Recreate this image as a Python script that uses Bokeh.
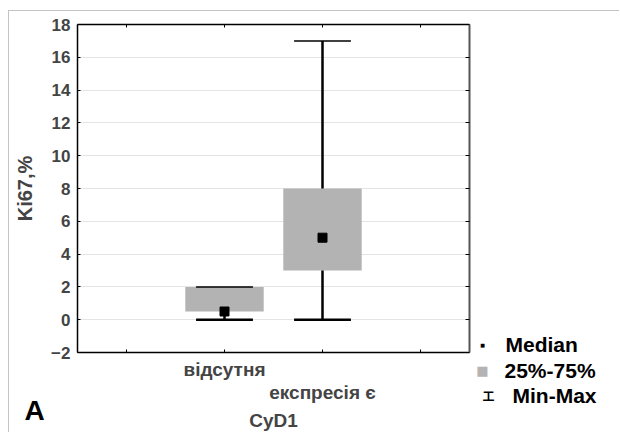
from bokeh.plotting import figure
from bokeh.models import (Range1d, FixedTicker, LinearAxis, Label, ColumnDataSource)
from bokeh.embed import file_html
from bokeh.resources import INLINE

# ---- data ----
categories = ["відсутня", "експресія є"]
cat_pos = [1, 2]
medians = [0.5, 5.0]
q1 = [0.5, 3.0]
q3 = [2.0, 8.0]
mins = [0.0, 0.0]
maxs = [2.0, 17.0]
y_ticks = [-2, 0, 2, 4, 6, 8, 10, 12, 14, 16, 18]
x_ticks = [0, 1, 2, 3]
legend_labels = ["Median", "25%-75%", "Min-Max"]

FONT = "Liberation Sans"
BOX_W = 0.8
CAP_W = 0.58

# plot box (axes) limits
XB0, XB1, YB0, YB1 = -0.5, 3.5, -2.0, 18.0
# page-pixel geometry of the plot box, and of the figure
PB_L, PB_R, PB_T, PB_B = 77, 469, 24, 352
FIG_X0, FIG_Y0 = 9, 11
W, H = 611, 422
SX = (PB_R - PB_L) / (XB1 - XB0)
SY = (PB_B - PB_T) / (YB1 - YB0)

def dx(px):
    return XB0 + (px - PB_L) / SX

def dy(py):
    return YB0 + (PB_B - py) / SY

# the frame covers the whole canvas; the axes are pinned to the plot box
p = figure(width=W, height=H, output_backend="svg", toolbar_location=None,
           x_range=Range1d(dx(FIG_X0), dx(FIG_X0 + W)),
           y_range=Range1d(dy(FIG_Y0 + H), dy(FIG_Y0)),
           min_border_left=0, min_border_top=0, min_border_right=0, min_border_bottom=0)
p.margin = (10, 0, 0, 8)
p.styles = {"border-top": "1px solid #c4c4c4", "border-left": "1px solid #c4c4c4"}
p.outline_line_color = None

p.xgrid.visible = False
p.ygrid.ticker = FixedTicker(ticks=y_ticks)
p.ygrid.grid_line_color = "#c8c8c8"
p.ygrid.grid_line_dash = "1 1"
p.ygrid.bounds = (YB0, YB1)
p.ygrid.cross_bounds = (XB0, XB1)

xa = p.xaxis[0]
xa.fixed_location = YB0
xa.bounds = (XB0, XB1)
xa.ticker = FixedTicker(ticks=x_ticks)
xa.major_label_overrides = {0: "", 1: categories[0], 2: "\n" + categories[1], 3: ""}
xa.major_tick_in = 3
xa.major_tick_out = 0
xa.minor_tick_line_color = None
xa.axis_line_width = 1.5
xa.major_label_text_font = FONT
xa.major_label_text_font_style = "bold"
xa.major_label_text_font_size = "19px"
xa.major_label_text_line_height = 1.1
xa.major_label_standoff = 6
xa.axis_label = "CyD1"
xa.axis_label_text_font = FONT
xa.axis_label_text_font_style = "bold"
xa.axis_label_text_font_size = "19px"
xa.axis_label_standoff = 4

ya = p.yaxis[0]
ya.fixed_location = XB0
ya.bounds = (YB0, YB1)
ya.ticker = FixedTicker(ticks=y_ticks)
ya.major_tick_in = 3
ya.major_tick_out = 0
ya.minor_tick_line_color = None
ya.axis_line_width = 1.5
ya.major_label_text_font = FONT
ya.major_label_text_font_style = "bold"
ya.major_label_text_font_size = "17px"
ya.major_label_standoff = 7
ya.axis_label = "Ki67,%"
ya.axis_label_text_font = FONT
ya.axis_label_text_font_style = "bold"
ya.axis_label_text_font_size = "20px"
ya.axis_label_standoff = 12

top = LinearAxis(ticker=FixedTicker(ticks=x_ticks), fixed_location=YB1, bounds=(XB0, XB1),
                 major_tick_in=3, major_tick_out=0, minor_tick_line_color=None,
                 major_label_text_color=None, axis_line_width=1.5)
p.add_layout(top, "above")
right = LinearAxis(ticker=FixedTicker(ticks=y_ticks), fixed_location=XB1, bounds=(YB0, YB1),
                   major_tick_in=4, major_tick_out=0, minor_tick_line_color=None,
                   major_label_text_color=None, axis_line_width=2,
                   axis_line_color="#555555")
p.add_layout(right, "right")

src = ColumnDataSource(dict(
    x=cat_pos,
    left=[c - BOX_W / 2 for c in cat_pos], right=[c + BOX_W / 2 for c in cat_pos],
    cl=[c - CAP_W / 2 for c in cat_pos], cr=[c + CAP_W / 2 for c in cat_pos],
    med=medians, q1=q1, q3=q3, lo=mins, hi=maxs))

p.quad(left="left", right="right", bottom="q1", top="q3", source=src,
       fill_color="#b3b3b3", line_color=None)
p.segment(x0="x", x1="x", y0="lo", y1="q1", source=src, line_color="black", line_width=2.5)
p.segment(x0="x", x1="x", y0="q3", y1="hi", source=src, line_color="black", line_width=2.5)
p.segment(x0="cl", x1="cr", y0="lo", y1="lo", source=src, line_color="black", line_width=2.5)
p.segment(x0="cl", x1="cr", y0="hi", y1="hi", source=src, line_color="black", line_width=1.5)
p.scatter(x="x", y="med", source=src, marker="square", size=9, fill_color="black",
          line_color="black")

# legend (annotations inside the frame)
leg_text_x = [505, 504, 512]
leg_text_y = [344, 370, 395]
for lbl, tx, ty in zip(legend_labels, leg_text_x, leg_text_y):
    p.add_layout(Label(x=dx(tx), y=dy(ty), text=lbl, text_font=FONT, text_font_style="bold",
                       text_font_size="21px", text_baseline="middle", text_align="left",
                       text_color="black"))
p.add_layout(Label(x=dx(482), y=dy(344), text="■", text_font="DejaVu Sans",
                   text_font_size="5px", text_baseline="middle", text_align="center",
                   text_color="black"))
p.add_layout(Label(x=dx(482), y=dy(370), text="■", text_font="DejaVu Sans",
                   text_font_size="13px", text_baseline="middle", text_align="center",
                   text_color="#b3b3b3"))
p.add_layout(Label(x=dx(488), y=dy(395), text="工", text_font="Noto Sans CJK SC",
                   text_font_style="bold", text_font_size="12px", text_baseline="middle",
                   text_align="center", text_color="black"))

p.add_layout(Label(x=dx(24), y=dy(410), text="A", text_font=FONT, text_font_style="bold",
                   text_font_size="28px", text_baseline="middle", text_align="left",
                   text_color="black"))

open("out.html", "w").write(file_html(p, INLINE))
